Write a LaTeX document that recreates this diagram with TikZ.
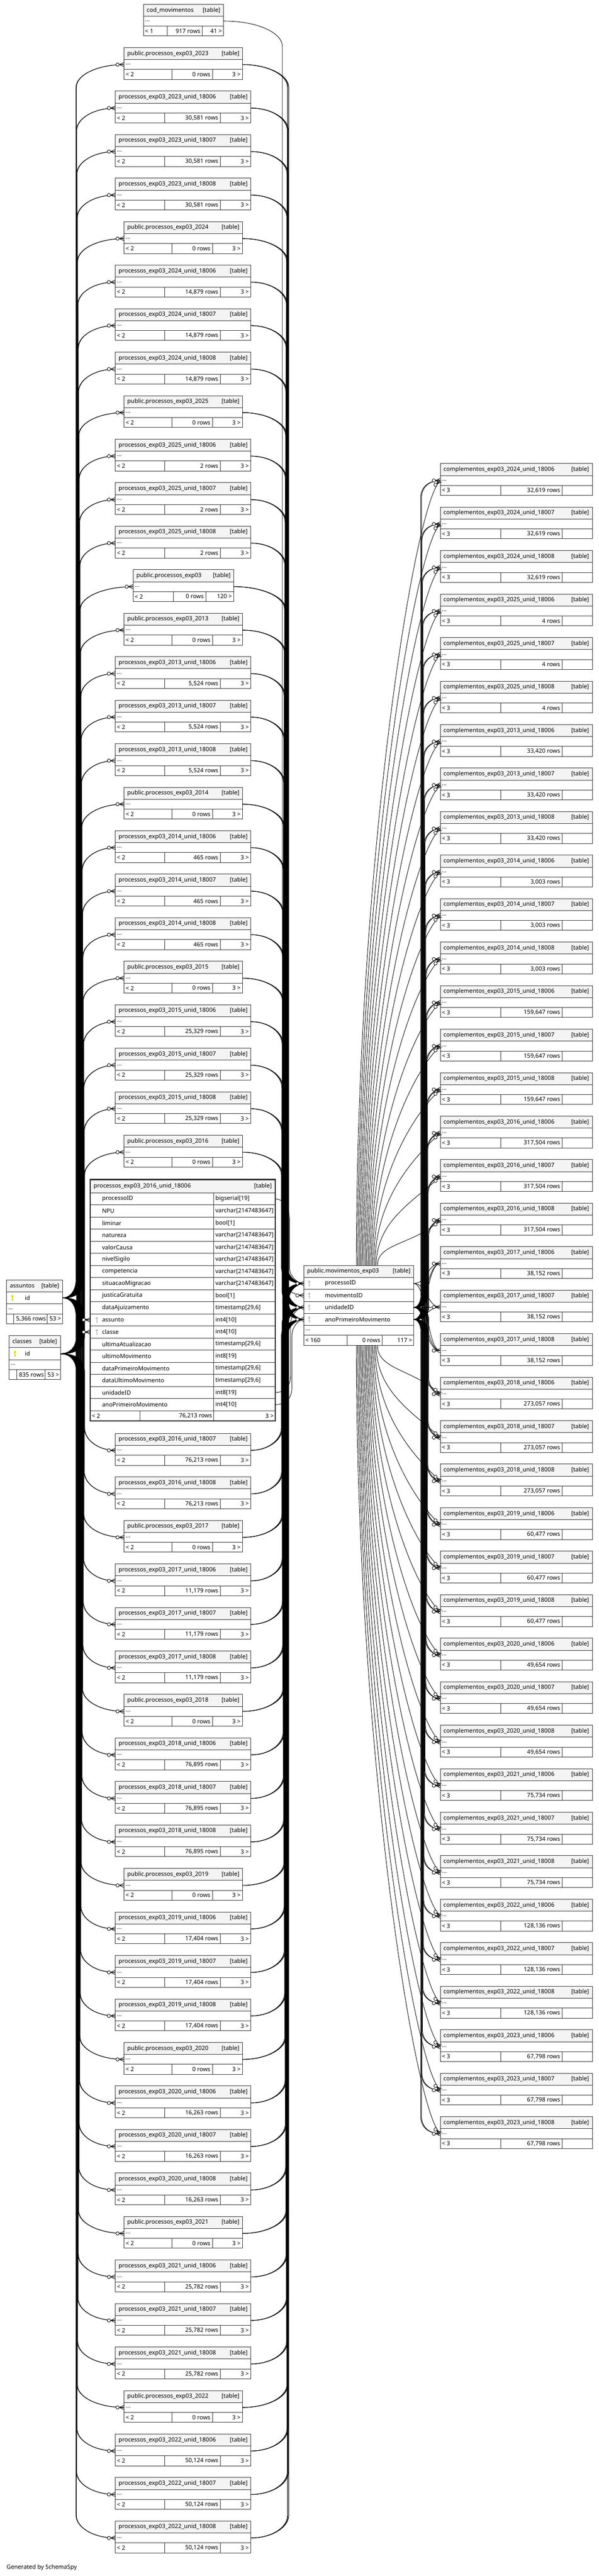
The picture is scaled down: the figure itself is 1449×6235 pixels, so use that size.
\documentclass[tikz,border=0pt]{standalone}
\usepackage{fontspec}
\setmainfont{Noto Sans}
\usepackage{tikz}
\definecolor{keyyellow}{RGB}{222,222,0}
\definecolor{keygray}{RGB}{196,196,196}
\definecolor{headfill}{RGB}{244,244,244}
\begin{document}
\begin{tikzpicture}[x=1pt,y=-1pt]
\tikzstyle{tbox}=[draw=black!80,line width=1.2pt,inner sep=0pt,outer sep=0pt,anchor=north west,font=\fontsize{14.2}{17}\selectfont]
\tikzstyle{thead}=[tbox,fill=headfill,minimum height=29pt]
\tikzstyle{trow}=[tbox,fill=white,minimum height=24pt]
\tikzstyle{tfield}=[tbox,fill=white,minimum height=29pt]
\tikzstyle{fk}=[line width=1.1pt]
\tikzset{crowdot/.pic={\draw[line width=1.1pt,fill=white] (-15.5,0) circle (4);
    \draw[line width=1.1pt] (-11.5,0) -- (0,-5) (-11.5,0) -- (0,5) (-11.5,0) -- (0,0);},
  pkey/.pic={\fill[keyyellow] (0,-4) circle (3) (-1.1,-2) rectangle (1.1,7.5) (1.1,3.5) rectangle (3,5);},
  fkey/.pic={\fill[keygray] (0,-4) circle (3) (-1.1,-2) rectangle (1.1,7.5) (1.1,3.5) rectangle (3,5);}}
\useasboundingbox (0,0) rectangle (1449,6235);

    \node[thead,minimum width=135pt] (as) at (16,3098) {\hbox to 119pt{{\bfseries assuntos}\hfil[table]}};
    \node[tfield,minimum width=135pt] (as-id) at (as.south west) {\hbox to 135pt{\hskip44pt\relax id\hfil}};
    \node[trow,minimum width=135pt] (as-b) at (as-id.south west) {\hbox to 127pt{...\hfil}};
    \node[trow,minimum width=17pt] (as-f1) at (as-b.south west) {};
    \node[trow,minimum width=81pt] (as-f2) at (as-f1.north east) {\hbox to 75pt{\hfil 5,366 rows}};
    \node[trow,minimum width=37pt] (as-f3) at (as-f2.north east) {\hbox to 31pt{\hfil 53 >}};
    \pic at ([xshift=14pt]as-id.west) {pkey};

    \node[thead,minimum width=124pt] (cl) at (22,3233) {\hbox to 108pt{{\bfseries classes}\hfil[table]}};
    \node[tfield,minimum width=124pt] (cl-id) at (cl.south west) {\hbox to 124pt{\hskip38pt\relax id\hfil}};
    \node[trow,minimum width=124pt] (cl-b) at (cl-id.south west) {\hbox to 116pt{...\hfil}};
    \node[trow,minimum width=18pt] (cl-f1) at (cl-b.south west) {};
    \node[trow,minimum width=69pt] (cl-f2) at (cl-f1.north east) {\hbox to 63pt{\hfil 835 rows}};
    \node[trow,minimum width=37pt] (cl-f3) at (cl-f2.north east) {\hbox to 31pt{\hfil 53 >}};
    \pic at ([xshift=14pt]cl-id.west) {pkey};

    \node[thead,minimum width=266pt] (mov) at (735,3063) {\hbox to 250pt{{\bfseries public.movimentos\_exp03}\hfil[table]}};
    \foreach \f [count=\k] in {processoID,movimentoID,unidadeID,anoPrimeiroMovimento}{
      \node[tfield,minimum width=266pt] (mov-\k) at (735,{3063+29*\k}) {\hbox to 266pt{\hskip51pt\relax\f\hfil}};
      \pic at ([xshift=13pt]mov-\k.west) {fkey};
    }
    \node[trow,minimum width=266pt] (mov-b) at (mov-4.south west) {\hbox to 258pt{...\hfil}};
    \node[trow,minimum width=105pt] (mov-f1) at (mov-b.south west) {\hbox to 97pt{< 160\hfil}};
    \node[trow,minimum width=84pt] (mov-f2) at (mov-f1.north east) {\hbox to 76pt{\hfil 0 rows}};
    \node[trow,minimum width=77pt] (mov-f3) at (mov-f2.north east) {\hbox to 69pt{\hfil 117 >}};

    \node[thead,minimum width=448pt,minimum height=32pt] (big) at (218,2855) {\hbox to 431pt{{\bfseries processos\_exp03\_2016\_unid\_18006}\hfil[table]}};
    \foreach \f/\t [count=\k] in {processoID/{bigserial[19]},NPU/{varchar[2147483647]},liminar/{bool[1]},natureza/{varchar[2147483647]},valorCausa/{varchar[2147483647]},nivelSigilo/{varchar[2147483647]},competencia/{varchar[2147483647]},situacaoMigracao/{varchar[2147483647]},justicaGratuita/{bool[1]},dataAjuizamento/{timestamp[29,6]},assunto/{int4[10]},classe/{int4[10]},ultimaAtualizacao/{timestamp[29,6]},ultimoMovimento/{int8[19]},dataPrimeiroMovimento/{timestamp[29,6]},dataUltimoMovimento/{timestamp[29,6]},unidadeID/{int8[19]},anoPrimeiroMovimento/{int4[10]}}{
      \node[tfield,minimum width=299pt,minimum height=29.3pt] (big-\k) at (218,{2887+29.3*(\k-1)}) {\hbox to 299pt{\hskip29pt\relax\f\hfil}};
      \node[tfield,minimum width=149pt,minimum height=29.3pt] (big-\k-t) at (517,{2887+29.3*(\k-1)}) {\hbox to 149pt{\hskip4pt\relax\t\hfil}};
    }
    \node[trow,minimum width=120pt,minimum height=25pt] (big-f1) at (218,3414.4) {\hbox to 112pt{< 2\hfil}};
    \node[trow,minimum width=179pt,minimum height=25pt] (big-f2) at (big-f1.north east) {\hbox to 171pt{\hfil 76,213 rows}};
    \node[trow,minimum width=149pt,minimum height=25pt] (big-f3) at (big-f2.north east) {\hbox to 141pt{\hfil 3 >}};
    \draw[line width=2.6pt,black!85] (big.north west) rectangle (big-f3.south east);
    \pic at ([xshift=16pt]big-11.west) {fkey};
    \pic at ([xshift=16pt]big-12.west) {fkey};
    \draw[fk] (as-id.east) .. controls (190,3141) and (180,3195) .. (big-11.west);
    \draw[fk] (cl-id.east) .. controls (190,3277) and (180,3224) .. (big-12.west);
    \draw[fk] (big-1-t.east) .. controls (684,2902) and (700,2920) .. (700,2950) -- (700,3066) .. controls (700,3088) and (718,3106.5) .. (mov-1.west);
    \draw[fk] (big-17-t.east) .. controls (688,3370.5) and (703,3355) .. (703,3330) -- (703,3205) .. controls (703,3183) and (720,3164.5) .. (mov-3.west);
    \draw[fk] (big-18-t.east) .. controls (690,3400) and (706,3385) .. (706,3360) -- (706,3234) .. controls (706,3212) and (722,3193.5) .. (mov-4.west);

    \node[thead,minimum width=194pt] (L0) at (347,10) {\hbox to 178pt{{\bfseries cod\_movimentos}\hfil[table]}};
    \node[trow,minimum width=194pt] (L0-b) at (L0.south west) {\hbox to 186pt{...\hfil}};
    \node[trow,minimum width=58pt] (L0-f1) at (L0-b.south west) {\hbox to 50pt{< 1\hfil}};
    \node[trow,minimum width=84pt] (L0-f2) at (L0-f1.north east) {\hbox to 76pt{\hfil 917 rows}};
    \node[trow,minimum width=52pt] (L0-f3) at (L0-f2.north east) {\hbox to 44pt{\hfil 41 >}};
    \draw[fk] (L0-b.east) .. controls (625,51) and (683,80) .. (683,112) -- (683,3095) .. controls (683,3120) and (712,3135.5) .. (mov-2.west);

    \foreach \yr/\cnt/\base/\units in {2023/{30,581}/1/{0,18006,18007,18008},2024/{14,879}/5/{0,18006,18007,18008},2025/2/9/{0,18006,18007,18008},exp03/0/13/{0},2013/{5,524}/14/{0,18006,18007,18008},2014/465/18/{0,18006,18007,18008},2015/{25,329}/22/{0,18006,18007,18008},2016/{76,213}/26/{0,18006,18007,18008},2017/{11,179}/30/{0,18006,18007,18008},2018/{76,895}/34/{0,18006,18007,18008},2019/{17,404}/38/{0,18006,18007,18008},2020/{16,263}/42/{0,18006,18007,18008},2021/{25,782}/46/{0,18006,18007,18008},2022/{50,124}/50/{0,18006,18007,18008}}{
    \foreach \u [count=\k from 0] in \units {
      \pgfmathtruncatemacro{\i}{\base+\k}
      \ifnum\i=27\relax\else
      \pgfmathsetmacro{\y}{10+105.3*\i+(\i>27)*511}
      \ifnum\k=0
        \ifnum\i=13
          \def\x{322}\def\w{244}\def\wa{98}\def\wb{78}\def\nm{public.processos\_exp03}\def\rt{120 >}
        \else
          \def\x{300}\def\w{287}\def\wa{116}\def\wb{98}\def\nm{public.processos\_exp03\_\yr}\def\rt{3 >}
        \fi
        \def\rw{0}
      \else
        \def\x{279}\def\w{328}\def\wa{119}\def\wb{135}\def\nm{processos\_exp03\_\yr\_unid\_\u}\def\rt{3 >}\def\rw{\cnt}
      \fi
      \pgfmathsetmacro{\wc}{\w-\wa-\wb}
      \pgfmathsetmacro{\tw}{\w-16}\pgfmathsetmacro{\tb}{\w-8}
      \pgfmathsetmacro{\ta}{\wa-8}\pgfmathsetmacro{\tm}{\wb-10}\pgfmathsetmacro{\tc}{\wc-10}
      \node[thead,minimum width=\w pt] (L\i) at (\x,\y) {\hbox to \tw pt{{\bfseries\nm}\hfil[table]}};
      \node[trow,minimum width=\w pt] (L\i-b) at (L\i.south west) {\hbox to \tb pt{...\hfil}};
      \node[trow,minimum width=\wa pt] (L\i-f1) at (L\i-b.south west) {\hbox to \ta pt{< 2\hfil}};
      \node[trow,minimum width=\wb pt] (L\i-f2) at (L\i-f1.north east) {\hbox to \tm pt{\hfil\rw\ rows}};
      \node[trow,minimum width=\wc pt] (L\i-f3) at (L\i-f2.north east) {\hbox to \tc pt{\hfil\rt}};
      \ifnum\i<27
        \pgfmathsetmacro{\xa}{183+0.8*\i}
        \draw[fk] (as-id.east) .. controls (\xa-12,3141) and (\xa,3121) .. (\xa,3096) -- (\xa,\y+96) .. controls (\xa,\y+66) and ({\xa+0.45*(\x-\xa)},\y+41) .. (L\i-b.west);
        \draw[fk] (cl-id.east) .. controls (\xa-11,3277) and (\xa+1,3257) .. (\xa+1,3232) -- (\xa+1,\y+96) .. controls (\xa+1,\y+66) and ({\xa+0.45*(\x-\xa)},\y+41) .. (L\i-b.west);
        \foreach \r/\ym/\d in {1/3106.5/0,3/3164.5/1.5,4/3193.5/3}{
          \pgfmathsetmacro{\xb}{680+0.6*(27-\i)+\d}
          \draw[fk] (L\i-b.east) .. controls ({\x+\w+0.55*(\xb-\x-\w)},\y+41) and (\xb,\y+66) .. (\xb,\y+96) -- (\xb,\ym-40) .. controls (\xb,\ym-18) and (\xb+20,\ym) .. (mov-\r.west);
        }
      \else
        \pgfmathsetmacro{\xa}{183+0.8*(54-\i)}
        \draw[fk] (as-id.east) .. controls (\xa-12,3141) and (\xa,3161) .. (\xa,3186) -- (\xa,\y-14) .. controls (\xa,\y+16) and ({\xa+0.45*(\x-\xa)},\y+41) .. (L\i-b.west);
        \draw[fk] (cl-id.east) .. controls (\xa-11,3277) and (\xa+1,3297) .. (\xa+1,3322) -- (\xa+1,\y-14) .. controls (\xa+1,\y+16) and ({\xa+0.45*(\x-\xa)},\y+41) .. (L\i-b.west);
        \foreach \r/\ym/\d in {1/3106.5/3,3/3164.5/1.5,4/3193.5/0}{
          \pgfmathsetmacro{\xb}{680+0.6*(\i-27)+\d}
          \draw[fk] (L\i-b.east) .. controls ({\x+\w+0.55*(\xb-\x-\w)},\y+41) and (\xb,\y+16) .. (\xb,\y-14) -- (\xb,\ym+40) .. controls (\xb,\ym+18) and (\xb+20,\ym) .. (mov-\r.west);
        }
      \fi
      \pic at (L\i-b.west) {crowdot};
      \fi
    }}

    \foreach \yr/\cnt/\base in {2024/{32,619}/0,2025/4/3,2013/{33,420}/6,2014/{3,003}/9,2015/{159,647}/12,2016/{317,504}/15,2017/{38,152}/18,2018/{273,057}/21,2019/{60,477}/24,2020/{49,654}/27,2021/{75,734}/30,2022/{128,136}/33,2023/{67,798}/36}{
    \foreach \u [count=\k from 0] in {18006,18007,18008}{
      \pgfmathtruncatemacro{\j}{\base+\k}
      \pgfmathsetmacro{\y}{1122+105.3*\j}
      \node[thead,minimum width=368pt] (R\j) at (1065,\y) {\hbox to 352pt{{\bfseries complementos\_exp03\_\yr\_unid\_\u}\hfil[table]}};
      \node[trow,minimum width=368pt] (R\j-b) at (R\j.south west) {\hbox to 360pt{...\hfil}};
      \node[trow,minimum width=146pt] (R\j-f1) at (R\j-b.south west) {\hbox to 138pt{< 3\hfil}};
      \node[trow,minimum width=149pt] (R\j-f2) at (R\j-f1.north east) {\hbox to 139pt{\hfil\cnt\ rows}};
      \node[trow,minimum width=73pt] (R\j-f3) at (R\j-f2.north east) {};
      \ifnum\j<18
        \pgfmathsetmacro{\xs}{862+3*\j}\pgfmathsetmacro{\dx}{\xs-735}
        \draw[fk] ([xshift=\dx pt]mov.north west) .. controls (\xs,{(3063+\y+41)/2}) and (1000,\y+101) .. (R\j-b.west);
        \foreach \r/\ym/\d in {3/3164.5/0,4/3193.5/2}{
          \pgfmathsetmacro{\xc}{1018+\j+\d}
          \draw[fk] (mov-\r.east) .. controls (\xc-8,\ym) and (\xc,\ym-12) .. (\xc,\ym-30) -- (\xc,\y+81) .. controls (\xc,\y+58) and (\xc+18,\y+41) .. (R\j-b.west);
        }
        \pic[rotate=42] at (R\j-b.west) {crowdot};
      \else\ifnum\j>20
        \pgfmathsetmacro{\xs}{862+3*(38-\j)}\pgfmathsetmacro{\dx}{\xs-735}
        \draw[fk] ([xshift=\dx pt]mov-f1.south west) .. controls (\xs,{(3257+\y+41)/2}) and (1000,\y-19) .. (R\j-b.west);
        \foreach \r/\ym/\d in {3/3164.5/2,4/3193.5/0}{
          \pgfmathsetmacro{\xc}{1018+(38-\j)+\d}
          \draw[fk] (mov-\r.east) .. controls (\xc-8,\ym) and (\xc,\ym+12) .. (\xc,\ym+30) -- (\xc,\y+1) .. controls (\xc,\y+24) and (\xc+18,\y+41) .. (R\j-b.west);
        }
        \pic[rotate=-42] at (R\j-b.west) {crowdot};
      \else
        \foreach \r/\ym in {1/3106.5,3/3164.5,4/3193.5}{
          \draw[fk] (mov-\r.east) .. controls (1033,\ym) and (1033,\y+41) .. (R\j-b.west);
        }
      \fi\fi
      \pic at (R\j-b.west) {crowdot};
    }}

    \foreach \r in {1,2,3,4}{\pic at (mov-\r.west) {crowdot};}
    \pic at (big-11.west) {crowdot};
    \pic at (big-12.west) {crowdot};
    \node[anchor=west,inner sep=0pt,font=\fontsize{14.2}{17}\selectfont] (gen) at (16,6215) {Generated by SchemaSpy};
\end{tikzpicture}
\end{document}
